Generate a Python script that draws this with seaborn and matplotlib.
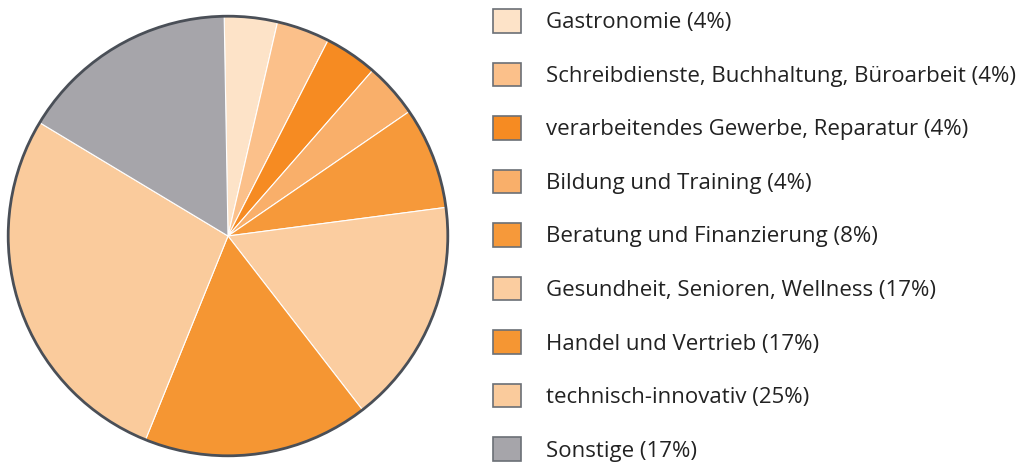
import matplotlib
matplotlib.use("Agg")
import matplotlib.pyplot as plt
import seaborn as sns
from matplotlib.patches import Circle, Patch

sns.set_theme(style="white")
plt.rcParams['font.family'] = ['Open Sans', 'DejaVu Sans']

categories = [
    "Gastronomie (4%)",
    "Schreibdienste, Buchhaltung, Büroarbeit (4%)",
    "verarbeitendes Gewerbe, Reparatur (4%)",
    "Bildung und Training (4%)",
    "Beratung und Finanzierung (8%)",
    "Gesundheit, Senioren, Wellness (17%)",
    "Handel und Vertrieb (17%)",
    "technisch-innovativ (25%)",
    "Sonstige (17%)",
]
# slice sizes as drawn in the reference (percent)
shares = [3.9, 3.9, 3.9, 4.0, 7.5, 16.6, 16.6, 27.5, 16.1]
colors = ["#FDE3C8", "#FBC08A", "#F68B22", "#F9AF6A", "#F6993A",
          "#FBCDA0", "#F59633", "#FACB9C", "#A6A5AA"]

fig = plt.figure(figsize=(10.24, 4.63), dpi=100)
ax = fig.add_axes([6 / 1024, 5 / 463, 444 / 1024, 444 / 463])
ax.pie(shares, colors=colors, startangle=91, counterclock=False,
       wedgeprops=dict(edgecolor="white", linewidth=0.8))
ax.add_patch(Circle((0, 0), 1.0, fill=False, edgecolor="#4A4F57", linewidth=2, zorder=5))
ax.set_xlim(-1.01, 1.01)
ax.set_ylim(-1.01, 1.01)
ax.set_aspect("equal")
ax.axis("off")

handles = [Patch(facecolor=c, edgecolor="#6B6F76", linewidth=1.2) for c in colors]
fig.legend(handles, categories, loc="upper left",
           bbox_to_anchor=(493 / 1024, 1 - 9 / 463),
           frameon=False, fontsize=16, handlelength=1.25, handleheight=1.25,
           labelspacing=1.32, handletextpad=1.15, borderpad=0, borderaxespad=0,
           labelcolor="#222222")

fig.savefig("out.png", dpi=100)
